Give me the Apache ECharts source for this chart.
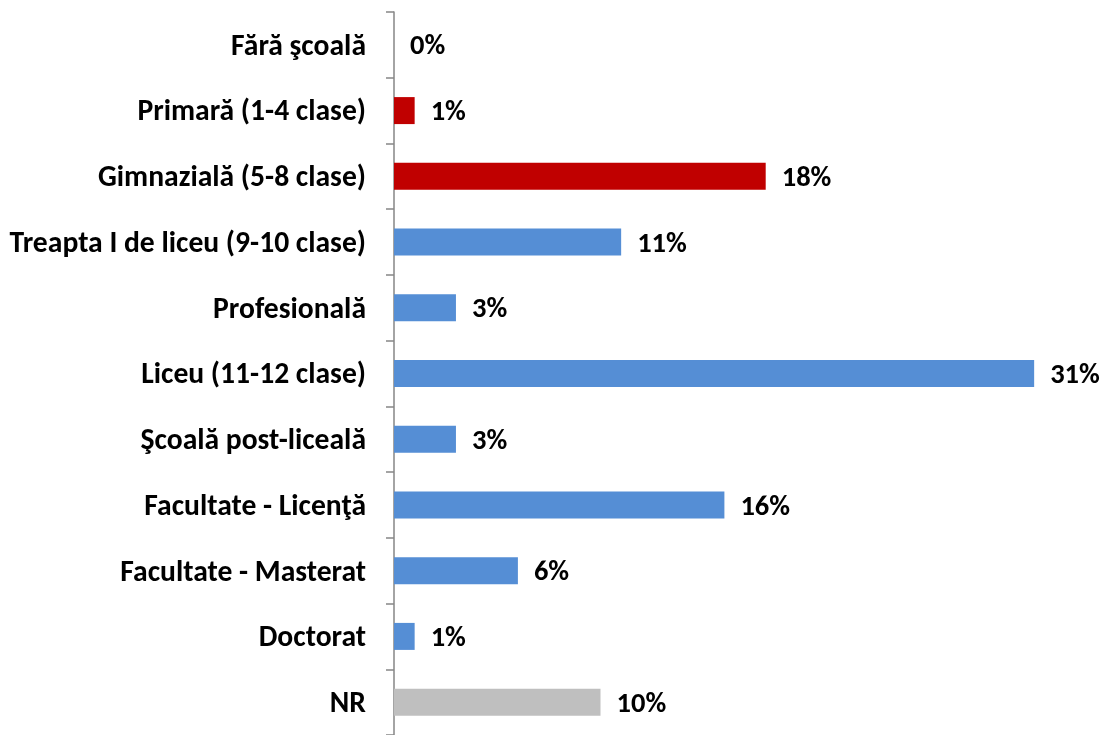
<!DOCTYPE html>
<html>
<head>
<meta charset="utf-8">
<script src="https://cdn.jsdelivr.net/npm/echarts@6/dist/echarts.min.js"></script>
<style>
html,body{margin:0;padding:0;background:#fff;}
#chart{width:1105px;height:735px;}
</style>
</head>
<body>
<div id="chart"></div>
<script>
const categories = ["Fără şcoală","Primară (1-4 clase)","Gimnazială (5-8 clase)","Treapta I de liceu (9-10 clase)","Profesională","Liceu (11-12 clase)","Şcoală post-liceală","Facultate - Licenţă","Facultate - Masterat","Doctorat","NR"];
const values = [0,1,18,11,3,31,3,16,6,1,10];
const barColors = ["#C00000","#C00000","#C00000","#558ED5","#558ED5","#558ED5","#558ED5","#558ED5","#558ED5","#558ED5","#BFBFBF"];

const FONT = "Carlito, Lato, sans-serif";
const chart = echarts.init(document.getElementById('chart'));
chart.setOption({
  animation:false,
  backgroundColor:'#ffffff',
  grid:{left:394, top:12, width:32*20.65, height:726, containLabel:false},
  xAxis:{type:'value', min:0, max:32, show:false},
  yAxis:{
    type:'category', data:categories, inverse:true,
    axisLine:{show:true, lineStyle:{color:'#868686', width:1.5}},
    axisTick:{show:true, length:8, lineStyle:{color:'#868686', width:1.5}},
    axisLabel:{margin:28, formatter:v=>'{a|'+v+'}',
      rich:{a:{color:'#000', fontFamily:FONT, fontWeight:'bold', fontSize:29.6, padding:[5,0,0,0]}}},
    splitLine:{show:false}
  },
  series:[{
    type:'bar',
    data:values.map((v,i)=>({value:v, itemStyle:{color:barColors[i]}})),
    barWidth:27,
    label:{show:true, position:'right', distance:16, formatter:'{a|{c}%}',
      rich:{a:{color:'#000', fontFamily:FONT, fontWeight:'bold', fontSize:28.5, padding:[5,0,0,0]}}}
  }]
});
</script>
</body>
</html>
